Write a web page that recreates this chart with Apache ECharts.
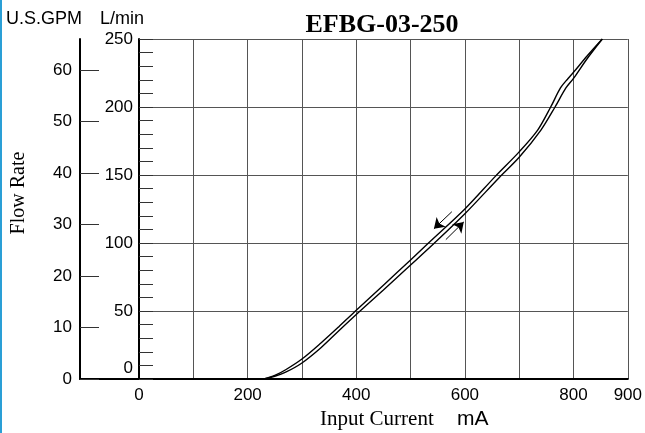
<!DOCTYPE html>
<html>
<head>
<meta charset="utf-8">
<script src="https://cdn.jsdelivr.net/npm/echarts@6/dist/echarts.min.js"></script>
<style>html,body{margin:0;padding:0;background:#fff}#c{width:645px;height:433px}</style>
</head>
<body>
<div id="c"></div>
<script>
// ---- data ----
const titleText = 'EFBG-03-250';
const currentTicks = [0, 200, 400, 600, 800, 900];
const lpmTicks = [0, 50, 100, 150, 200, 250];
const gpmTicks = [0, 10, 20, 30, 40, 50, 60];
const LPM_PER_GPM = 3.785;

// decreasing-current branch (upper curve)
const currentDown = [230, 250, 270, 300, 335, 368, 400, 450, 500, 533, 600, 656, 700, 734, 758, 776, 790, 800, 825, 853];
const flowDown    = [0,   2.6, 6.8, 14.7, 26.5, 38.5, 50.5, 69, 87.5, 100, 125, 149, 167, 183, 200, 214, 221, 225.5, 237.5, 250];
// increasing-current branch (lower curve)
const currentUp = [230, 250, 270, 300, 335, 368, 407, 450, 500, 544, 600, 663, 700, 740, 766, 786, 800, 825, 853];
const flowUp    = [0,   2,   5,   11.8, 23, 35.5, 50, 65.5, 83.8, 100, 121.5, 148, 163, 183, 200, 214, 221, 235.5, 250];

// direction arrows [ [tailCurrent, tailFlow], [headCurrent, headFlow] ]
const arrowDown = [[576, 123], [543, 110.5]];
const arrowUp   = [[565, 102.5], [598, 115.5]];

const zip = (a, b) => a.map((v, i) => [v, b[i]]);
const SANS = 'Liberation Sans, Arial, sans-serif';
const SERIF = 'Liberation Serif, Times New Roman, serif';
const gridColor = '#555';

const chart = echarts.init(document.getElementById('c'), null, {renderer: 'canvas'});
chart.setOption({
  animation: false,
  backgroundColor: '#fff',
  title: {
    text: titleText, left: 377, top: 7, textAlign: 'center',
    textStyle: {fontFamily: SERIF, fontWeight: 'bold', fontSize: 26, color: '#000'}
  },
  graphic: [
    {type: 'rect', left: 0, top: 0, shape: {width: 2, height: 433}, style: {fill: '#2a9fd6'}},
    {type: 'text', left: 6, top: 10, style: {text: 'U.S.GPM', font: '18px ' + SANS, fill: '#000'}},
    {type: 'text', left: 100, top: 10, style: {text: 'L/min', font: '18px ' + SANS, fill: '#000'}},
    {type: 'text', x: 19, y: 193, rotation: Math.PI / 2,
     style: {text: 'Flow Rate', font: '20px ' + SERIF, fill: '#000', align: 'center', verticalAlign: 'middle'}},
    {type: 'text', x: 320, y: 419,
     style: {text: 'Input Current', font: '21px ' + SERIF, fill: '#000', align: 'left', verticalAlign: 'middle'}},
    {type: 'text', x: 457, y: 419,
     style: {text: 'mA', font: '21px ' + SANS, fill: '#000', align: 'left', verticalAlign: 'middle'}}
  ],
  grid: [
    {left: 139, right: 15, top: 39, bottom: 54},
    {left: 80, width: 59, top: 39, bottom: 54}
  ],
  xAxis: [
    {
      gridIndex: 0, type: 'value', min: 0, max: 900, interval: 100,
      axisLine: {show: true, lineStyle: {color: '#000', width: 2}},
      axisTick: {show: false},
      axisLabel: {customValues: currentTicks, fontFamily: SANS, fontSize: 17, color: '#000', margin: 8},
      splitLine: {show: true, lineStyle: {color: gridColor, width: 1}}
    },
    {
      gridIndex: 1, type: 'value', min: 0, max: 1,
      axisLine: {show: true, lineStyle: {color: '#000', width: 2}},
      axisTick: {show: false}, axisLabel: {show: false}, splitLine: {show: false}
    }
  ],
  yAxis: [
    {
      gridIndex: 0, type: 'value', min: 0, max: 250, interval: 50, position: 'left',
      axisLine: {show: true, lineStyle: {color: '#000', width: 2}},
      axisTick: {show: true, inside: true, length: 14, lineStyle: {color: '#333'}},
      minorTick: {show: true, splitNumber: 5, length: 14, lineStyle: {color: '#333'}},
      axisLabel: {
        fontFamily: SANS, fontSize: 17, color: '#000', margin: 6,
        customValues: lpmTicks,
        formatter: v => v === 0 ? '{z|0}' : String(v),
        rich: {z: {fontFamily: SANS, fontSize: 17, color: '#000', padding: [0, 0, 21, 0]}}
      },
      splitLine: {show: true, lineStyle: {color: gridColor, width: 1}}
    },
    {
      gridIndex: 1, type: 'value', min: 0, max: 250 / LPM_PER_GPM, position: 'left',
      axisLine: {show: true, lineStyle: {color: '#000', width: 2}},
      axisTick: {show: true, inside: true, length: 19, customValues: gpmTicks, lineStyle: {color: '#333'}},
      axisLabel: {customValues: gpmTicks, fontFamily: SANS, fontSize: 17, color: '#000', margin: 8},
      splitLine: {show: false}
    }
  ],
  series: [
    {
      type: 'line', xAxisIndex: 0, yAxisIndex: 0, data: zip(currentDown, flowDown),
      smooth: 0.3, showSymbol: false, lineStyle: {color: '#000', width: 1.4}
    },
    {
      type: 'line', xAxisIndex: 0, yAxisIndex: 0, data: zip(currentUp, flowUp),
      smooth: 0.3, showSymbol: false, lineStyle: {color: '#000', width: 1.4}
    },
    {
      type: 'lines', coordinateSystem: 'cartesian2d', xAxisIndex: 0, yAxisIndex: 0,
      symbol: ['none', 'arrow'], symbolSize: 10,
      lineStyle: {color: '#000', width: 1, opacity: 1},
      data: [{coords: arrowDown}, {coords: arrowUp}]
    }
  ]
});
</script>
</body>
</html>
